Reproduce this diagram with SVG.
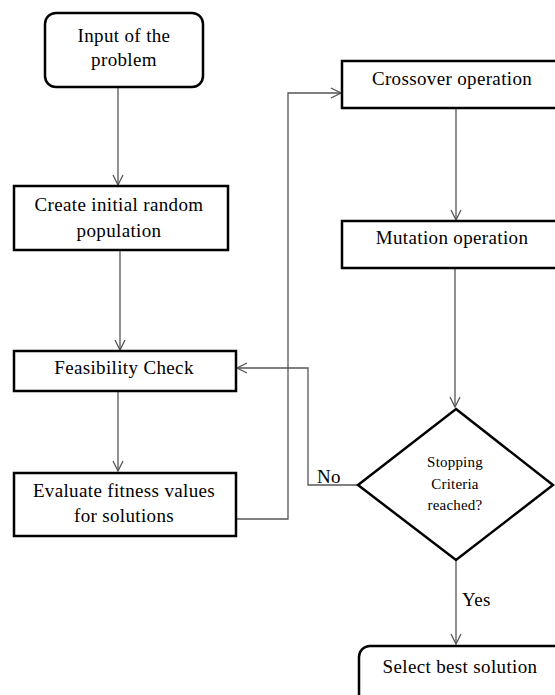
<svg xmlns="http://www.w3.org/2000/svg" width="555" height="695" viewBox="0 0 555 695">
<style>
.box{fill:#fff;stroke:#000;stroke-width:2.5}
.t{font-family:"Liberation Serif",serif;font-size:19px;letter-spacing:0.35px;fill:#000;text-anchor:middle}
.s{font-family:"Liberation Serif",serif;font-size:15px;letter-spacing:0.2px;fill:#000;text-anchor:middle}
.c{fill:none;stroke:#555;stroke-width:1.3}
</style>
<defs>
<marker id="a" viewBox="0 0 12 12" refX="11" refY="6" markerWidth="12" markerHeight="12" markerUnits="userSpaceOnUse" orient="auto">
<path d="M1,1 L11,6 L1,11" fill="none" stroke="#555" stroke-width="1.3"/>
</marker>
</defs>
<rect width="555" height="695" fill="#fff"/>
<g id="connectors">
<path class="c" d="M118,87 V185" marker-end="url(#a)"/>
<path class="c" d="M120,250 V350" marker-end="url(#a)"/>
<path class="c" d="M118,391 V471" marker-end="url(#a)"/>
<path class="c" d="M236,519 H288 V93 H341" marker-end="url(#a)"/>
<path class="c" d="M456,107 V220" marker-end="url(#a)"/>
<path class="c" d="M455,268 V407" marker-end="url(#a)"/>
<path class="c" d="M358,485 H308 V368 H237" marker-end="url(#a)"/>
<path class="c" d="M456,560 V644" marker-end="url(#a)"/>
<text class="t" x="317" y="483" style="text-anchor:start">No</text>
<text class="t" x="462" y="606" style="text-anchor:start">Yes</text>
</g>
<g id="input">
<rect class="box" x="45" y="13" width="158" height="74" rx="11"/>
<text class="t" x="124" y="42">Input of the</text>
<text class="t" x="124" y="66">problem</text>
</g>
<g id="create">
<rect class="box" x="14" y="186" width="214" height="64"/>
<text class="t" x="119" y="211">Create initial random</text>
<text class="t" x="119" y="237">population</text>
</g>
<g id="feasibility">
<rect class="box" x="14" y="351" width="222" height="40"/>
<text class="t" x="124" y="374">Feasibility Check</text>
</g>
<g id="evaluate">
<rect class="box" x="14" y="473" width="222" height="63"/>
<text class="t" x="124" y="497">Evaluate fitness values</text>
<text class="t" x="124" y="522">for solutions</text>
</g>
<g id="crossover">
<rect class="box" x="342" y="61" width="220" height="47"/>
<text class="t" x="452" y="85">Crossover operation</text>
</g>
<g id="mutation">
<rect class="box" x="342" y="221" width="220" height="47"/>
<text class="t" x="452" y="244">Mutation operation</text>
</g>
<g id="stopping">
<polygon class="box" points="456,409 553,485 456,560 358,485"/>
<text class="s" x="455" y="467">Stopping</text>
<text class="s" x="455" y="489">Criteria</text>
<text class="s" x="455" y="510">reached?</text>
</g>
<g id="select">
<rect class="box" x="359" y="646" width="210" height="60" rx="11"/>
<text class="t" x="460" y="673">Select best solution</text>
</g>
</svg>
